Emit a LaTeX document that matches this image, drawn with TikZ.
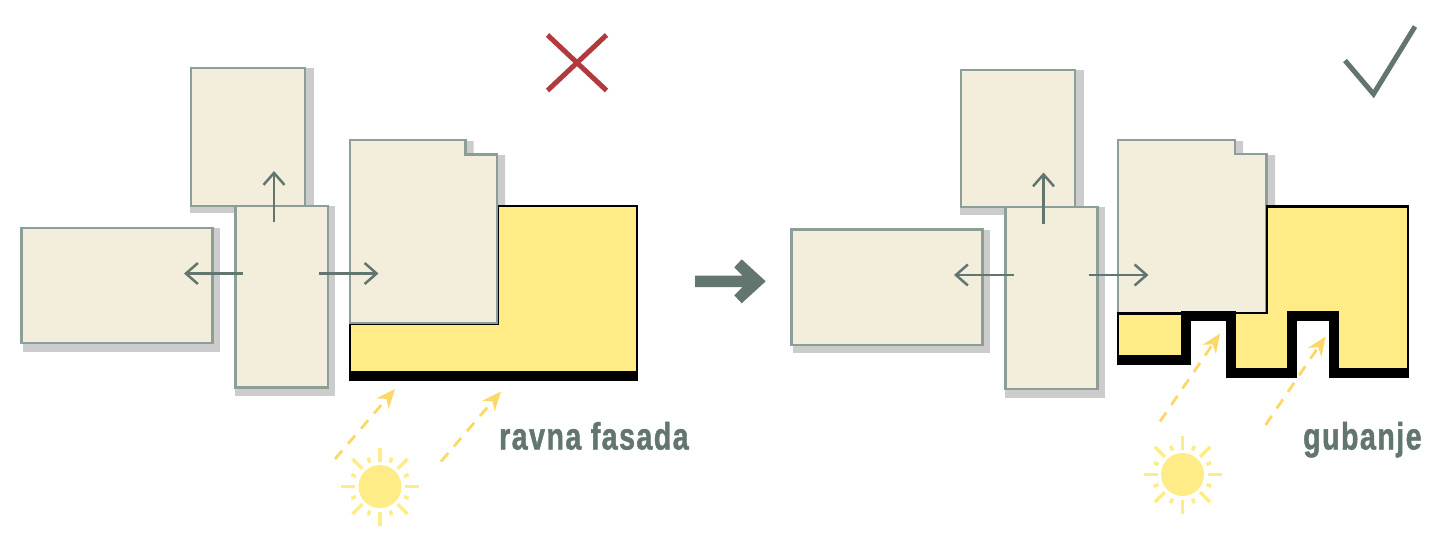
\documentclass[tikz,border=0pt]{standalone}
\usepackage{fontspec}
\usepackage{tikz}
\usetikzlibrary{arrows.meta,calc}
\newfontfamily\labelfont[FakeStretch=0.75,FakeBold=1.2,LetterSpace=4,BoldFont={Liberation Sans Bold}]{Liberation Sans Bold}
\definecolor{sheetfill}{HTML}{F3EEDC}
\definecolor{sheetline}{HTML}{8C9E98}
\definecolor{shadowgray}{HTML}{CCCCCC}
\definecolor{slategreen}{HTML}{62756F}
\definecolor{wallyellow}{HTML}{FFEC86}
\definecolor{rayyellow}{HTML}{FDD868}
\definecolor{crossred}{HTML}{B03A3E}
\tikzset{
    sheet/.style={draw=sheetline,fill=sheetfill,line width=2.8pt},
    outline/.style={draw=sheetline,fill=sheetfill,line width=2.2pt},
    shadowbox/.style={fill=shadowgray},
    wall/.style={draw=black,fill=wallyellow,line width=2.8pt,miter limit=10},
    edge/.style={draw=black,line width=2.8pt},
    fold/.style={draw=black,line width=10pt,miter limit=10},
    push/.style={draw=slategreen,line width=2.5pt,-{Straight Barb[length=12pt,width=21pt,line width=2.5pt]}},
    ray/.style={draw=rayyellow,line width=2.8pt,dash pattern=on 11pt off 9pt,-{Stealth[length=19pt,width=16pt,inset=6pt,sep=0pt]}},
    verdict/.style={line width=5pt},
    caption/.style={font=\labelfont\fontsize{38}{38}\selectfont,text=slategreen,inner sep=0pt,anchor=base west},
}
\newcommand{\sun}[2]{
    \fill[wallyellow] (#1,#2) circle(21.5);
    \foreach \a in {0,45,...,315}
        \draw[wallyellow,line width=3.4pt] ($(#1,#2)+(\a:25)$) -- ($(#1,#2)+(\a:39)$);
    \foreach \a in {22.5,67.5,...,337.5}
        \draw[wallyellow,line width=3.4pt] ($(#1,#2)+(\a:26)$) -- ($(#1,#2)+(\a:31)$);
}
\begin{document}
\begin{tikzpicture}[x=1pt,y=-1pt]
    \useasboundingbox (0,0) rectangle (1429,536);
    % left: flat facade
    \fill[shadowbox] (190,68) rectangle (314,213);
    \draw[sheet] (191,68) rectangle (305,206);
    \fill[shadowbox] (23,228) rectangle (220,351.5);
    \draw[sheet] (21.5,228) rectangle (212.5,343);
    \fill[shadowbox] (235,206) rectangle (334.5,395.5);
    \draw[sheet] (235.5,206) rectangle (328,387.5);
    \fill[shadowbox] (350,141) -| (473.5,155) -| (505,210) -- (350,210) -- cycle;
    \draw[wall] (350,324) -- (498,324) -- (498,206) -- (637,206) -- (637,376) -- (350,376) -- cycle;
    \draw[outline] (350,323) -- (350,140) -- (465.5,140) -- (465.5,154.5) -- (497,154.5) -- (497,323) -- cycle;
    \draw[fold] (349,376) -- (638,376);
    \draw[push] (274,222) -- (274,171);
    \draw[push] (243,273.5) -- (184,273.5);
    \draw[push] (319,273.5) -- (378.5,273.5);
    \draw[ray] (335,459) -- (395,389);
    \draw[ray] (441,461.5) -- (501,391.5);
    \sun{380}{486.5}
    \draw[crossred,verdict] (547.5,35) -- (606.5,90.5);
    \draw[crossred,verdict] (606.5,35) -- (547.5,90.5);
    \node[caption] (flatlabel) at (499,449.5) {ravna fasada};
    % middle arrow
    \fill[slategreen] (695,275.7) -- (742.5,275.7) -- (734.3,267.3) -- (741.7,259.3) -- (765.7,281.3) -- (741.7,303.3) -- (734.3,295.3) -- (742.5,287) -- (695,287) -- cycle;
    % right: folded facade
    \fill[shadowbox] (960,70) rectangle (1084,214.5);
    \draw[sheet] (961,70) rectangle (1075,207);
    \fill[shadowbox] (793,230) rectangle (990,352.5);
    \draw[sheet] (791.5,229.5) rectangle (982.5,345);
    \fill[shadowbox] (1005,207) rectangle (1105,397.5);
    \draw[sheet] (1005.5,207) rectangle (1097.5,389);
    \fill[shadowbox] (1118,141) -| (1243,155) -| (1275,210) -- (1118,210) -- cycle;
    \fill[wallyellow] (1118,313) -- (1267,313) -- (1267,206) -- (1408,206) -- (1408,373) -- (1334,373) -- (1334,315) -- (1292,315) -- (1292,373) -- (1231,373) -- (1231,315) -- (1186,315) -- (1186,360) -- (1118,360) -- cycle;
    \draw[outline] (1118,313) -- (1118,140) -- (1235,140) -- (1235,154) -- (1266.5,154) -- (1266.5,313) -- cycle;
    \draw[edge] (1118,360) -- (1118,313.5) -- (1186,313.5);
    \draw[edge] (1231,313) -- (1267,313) -- (1267,206.5) -- (1408,206.5) -- (1408,378);
    \draw[fold] (1117,360.3) -- (1185.5,360.3) -- (1185.5,315.5) -- (1231,315.5) -- (1231,373) -- (1292.3,373) -- (1292.3,315.5) -- (1334,315.5) -- (1334,373) -- (1408,373);
    \draw[push] (1043.5,223.5) -- (1043.5,172.5);
    \draw[push] (1013.5,275) -- (954,275);
    \draw[push] (1089,275) -- (1148.5,275);
    \draw[ray] (1160,421.5) -- (1220,333.5);
    \draw[ray] (1265.5,425) -- (1325.5,336.5);
    \sun{1182.5}{474.5}
    \draw[slategreen,verdict] (1345,60.5) -- (1373.5,94) -- (1415,26.5);
    \node[caption] (foldlabel) at (1303,449.5) {gubanje};
\end{tikzpicture}
\end{document}
